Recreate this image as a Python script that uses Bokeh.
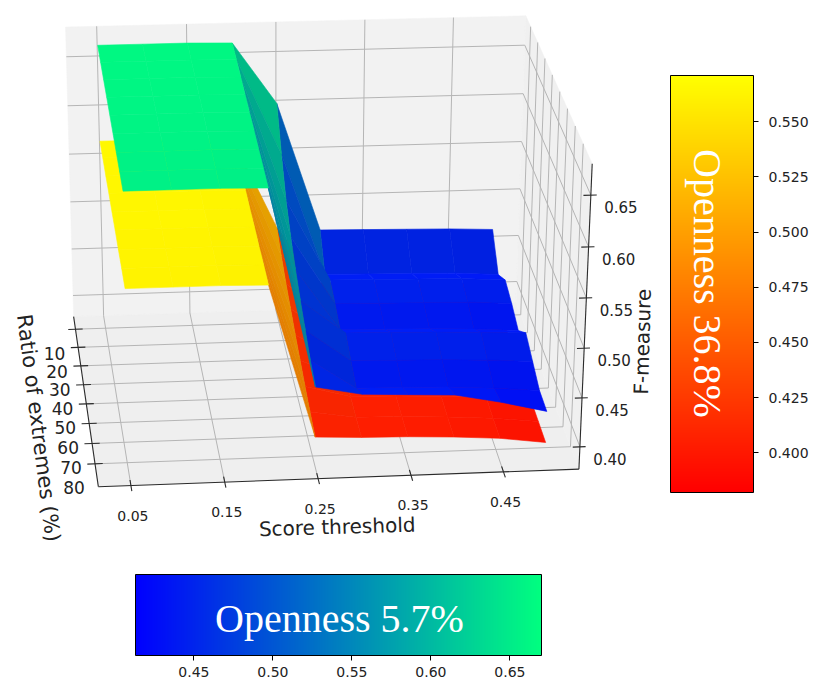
import numpy as np
from bokeh.plotting import figure
from bokeh.models import (Range1d, ColorBar, LinearColorMapper, FixedTicker,
                          PrintfTickFormatter, ColumnDataSource)
from bokeh.core.properties import value
from bokeh.embed import file_html
from bokeh.resources import INLINE

# ---------------- data ----------------
score_threshold = [0.05, 0.10, 0.15, 0.20, 0.25, 0.30, 0.35, 0.40, 0.45, 0.50]
ratio_of_extremes = [5, 15, 25, 35, 45, 55, 65, 75, 85]

# F-measure, rows = ratio of extremes, cols = score threshold
fmeasure_openness_5_7 = [
    [0.664, 0.664, 0.664, 0.663, 0.600, 0.466, 0.465, 0.464, 0.463, 0.461],
    [0.663, 0.663, 0.663, 0.662, 0.565, 0.437, 0.436, 0.435, 0.434, 0.431],
    [0.662, 0.662, 0.662, 0.661, 0.535, 0.450, 0.449, 0.448, 0.447, 0.444],
    [0.661, 0.661, 0.661, 0.660, 0.515, 0.444, 0.443, 0.442, 0.441, 0.438],
    [0.660, 0.660, 0.660, 0.659, 0.500, 0.436, 0.435, 0.434, 0.432, 0.429],
    [0.659, 0.659, 0.659, 0.658, 0.487, 0.452, 0.451, 0.450, 0.448, 0.446],
    [0.658, 0.658, 0.658, 0.657, 0.476, 0.443, 0.442, 0.441, 0.439, 0.436],
    [0.657, 0.657, 0.657, 0.656, 0.465, 0.435, 0.434, 0.433, 0.430, 0.426],
    [0.656, 0.656, 0.656, 0.655, 0.458, 0.449, 0.447, 0.445, 0.436, 0.425],
]
fmeasure_openness_36_8 = [
    [0.566, 0.566, 0.566, 0.565, 0.470, 0.409, 0.408, 0.407, 0.405, 0.401],
    [0.566, 0.566, 0.566, 0.565, 0.458, 0.408, 0.407, 0.406, 0.404, 0.400],
    [0.565, 0.565, 0.565, 0.564, 0.448, 0.408, 0.407, 0.405, 0.403, 0.399],
    [0.565, 0.565, 0.565, 0.564, 0.440, 0.407, 0.406, 0.405, 0.402, 0.398],
    [0.564, 0.564, 0.564, 0.563, 0.432, 0.407, 0.406, 0.404, 0.401, 0.397],
    [0.564, 0.564, 0.564, 0.563, 0.425, 0.406, 0.405, 0.404, 0.401, 0.396],
    [0.563, 0.563, 0.563, 0.562, 0.418, 0.406, 0.405, 0.403, 0.400, 0.395],
    [0.563, 0.563, 0.563, 0.562, 0.412, 0.405, 0.404, 0.402, 0.399, 0.394],
    [0.562, 0.562, 0.562, 0.561, 0.407, 0.405, 0.404, 0.402, 0.399, 0.393],
]

x_ticks = [0.05, 0.15, 0.25, 0.35, 0.45]
x_tick_labels = ["0.05", "0.15", "0.25", "0.35", "0.45"]
y_ticks = [10, 20, 30, 40, 50, 60, 70, 80]
y_tick_labels = ["10", "20", "30", "40", "50", "60", "70", "80"]
z_ticks = [0.40, 0.45, 0.50, 0.55, 0.60, 0.65]
z_tick_labels = ["0.40", "0.45", "0.50", "0.55", "0.60", "0.65"]

cbar_36_8_range = (0.382, 0.571)
cbar_36_8_ticks = [0.400, 0.425, 0.450, 0.475, 0.500, 0.525, 0.550]
cbar_5_7_range = (0.413, 0.670)
cbar_5_7_ticks = [0.45, 0.50, 0.55, 0.60, 0.65]

x_label = "Score threshold"
y_label = "Ratio of extremes (%)"
z_label = "F-measure"
title_36_8 = "Openness 36.8%"
title_5_7 = "Openness 5.7%"

# 3D axis limits
x_lim = (0.0154, 0.532)
y_lim = (3.0, 91.0)
z_lim = (0.377, 0.680)

# ---------------- view (camera calibration of the 3D box) ----------------
view_box = np.array([[0, 0, 0], [1, 0, 0], [0, 0, 1], [1, 0, 1],
                     [0, 1, 0], [1, 1, 0], [1, 1, 1]], float)
view_px = np.array([[73, 315], [516, 303], [65, 27], [525, 15],
                    [98, 487], [578, 468], [592, 163]], float) / 100.0
_rows = []
for (X, Y, Z), (sx, sy) in zip(view_box, view_px):
    _rows.append([X, Y, Z, 1, 0, 0, 0, 0, -sx * X, -sx * Y, -sx * Z, -sx])
    _rows.append([0, 0, 0, 0, X, Y, Z, 1, -sy * X, -sy * Y, -sy * Z, -sy])
_, _, _vt = np.linalg.svd(np.array(_rows))
PROJ = _vt[-1].reshape(3, 4)


def to_box(x, y, z):
    x = np.asarray(x, float); y = np.asarray(y, float); z = np.asarray(z, float)
    return ((x - x_lim[0]) / (x_lim[1] - x_lim[0]),
            (y - y_lim[0]) / (y_lim[1] - y_lim[0]),
            (z - z_lim[0]) / (z_lim[1] - z_lim[0]))


def project(u, v, w):
    u = np.atleast_1d(np.asarray(u, float)); v = np.atleast_1d(np.asarray(v, float))
    w = np.atleast_1d(np.asarray(w, float))
    u, v, w = np.broadcast_arrays(u, v, w)
    h = PROJ @ np.vstack([u.ravel(), v.ravel(), w.ravel(), np.ones(u.size)])
    return 100 * h[0] / h[2], 100 * h[1] / h[2]


def depth(u, v, w):
    return -0.064 * u + 0.913 * v + 0.306 * w


def autumn(t):
    t = float(np.clip(t, 0, 1))
    return (1.0, t, 0.0)


def winter(t):
    t = float(np.clip(t, 0, 1))
    return (0.0, t, 1.0 - 0.5 * t)


def hexcol(rgb, f=1.0):
    r, g, b = [int(round(255 * min(1.0, max(0.0, c * f)))) for c in rgb]
    return "#%02x%02x%02x" % (r, g, b)


LIGHT = np.array([-0.667, -0.667, 0.333])
LIGHT = LIGHT / np.linalg.norm(LIGHT)


def surface_quads(zgrid, cmap, lo, hi):
    X, Y = np.meshgrid(score_threshold, ratio_of_extremes)
    Z = np.array(zgrid, float)
    U, V, W = to_box(X, Y, Z)
    out = []
    nr, nc = Z.shape
    for i in range(nr - 1):
        for j in range(nc - 1):
            idx = [(i, j), (i, j + 1), (i + 1, j + 1), (i + 1, j)]
            us = np.array([U[a] for a in idx]); vs = np.array([V[a] for a in idx])
            ws = np.array([W[a] for a in idx]); zs = np.array([Z[a] for a in idx])
            pts = np.stack([us, vs, 0.75 * ws], axis=1)
            dx = ((pts[1] - pts[0]) + (pts[2] - pts[3])) / 2
            dy = ((pts[3] - pts[0]) + (pts[2] - pts[1])) / 2
            n = np.cross(dx, dy)
            n = n / np.linalg.norm(n)
            s = float(np.dot(n, LIGHT))
            f = 1.0 - 0.12 * (0.333 - s)
            col = hexcol(cmap((zs.mean() - lo) / (hi - lo)), f)
            sx, sy = project(us, vs, ws)
            out.append((float(depth(us, vs, ws).mean()), list(sx), list(sy), col))
    return out


# ---------------- figure ----------------
p = figure(width=815, height=684, x_range=Range1d(0, 815), y_range=Range1d(684, 0),
           output_backend="svg", toolbar_location=None, min_border=0,
           x_axis_location=None, y_axis_location=None)
p.grid.visible = False
p.outline_line_color = None
p.background_fill_color = "white"
p.border_fill_color = "white"

# panes
pane_defs = [
    ([0, 1, 1, 0], [0, 0, 0, 0], [0, 0, 1, 1], "#f2f2f2"),   # back
    ([0, 1, 1, 0], [0, 0, 1, 1], [0, 0, 0, 0], "#efefef"),   # floor
    ([1, 1, 1, 1], [0, 1, 1, 0], [0, 0, 1, 1], "#f0f0f0"),   # right side
]
pxs, pys, pcs = [], [], []
for us, vs, ws, c in pane_defs:
    sx, sy = project(us, vs, ws)
    pxs.append(list(sx)); pys.append(list(sy)); pcs.append(c)
p.patches(xs=pxs, ys=pys, fill_color=pcs, line_color=pcs, line_width=0.5)

# grid lines
gx, gy = [], []


def seg(a, b):
    sx, sy = project([a[0], b[0]], [a[1], b[1]], [a[2], b[2]])
    gx.append(list(sx)); gy.append(list(sy))


xu = np.atleast_1d(to_box(x_ticks, 0, 0)[0])
yv = np.atleast_1d(to_box(0, y_ticks, 0)[1])
zw = np.atleast_1d(to_box(0, 0, z_ticks)[2])
for u in xu:
    seg((u, 0, 0), (u, 0, 1))
    seg((u, 0, 0), (u, 1, 0))
for w in zw:
    seg((0, 0, w), (1, 0, w))
    seg((1, 0, w), (1, 1, w))
for v in yv:
    seg((0, v, 0), (1, v, 0))
    seg((1, v, 0), (1, v, 1))
p.multi_line(xs=gx, ys=gy, line_color="#b5b5b5", line_width=1)

# axis lines and ticks
ax_x, ax_y = [], []
for a, b in [((0, 0, 0), (0, 1, 0)), ((0, 1, 0), (1, 1, 0)), ((1, 1, 0), (1, 1, 1))]:
    sx, sy = project([a[0], b[0]], [a[1], b[1]], [a[2], b[2]])
    ax_x.append(list(sx)); ax_y.append(list(sy))
for v in yv:
    sx, sy = project([-0.016, 0.016], [v, v], [0, 0]); ax_x.append(list(sx)); ax_y.append(list(sy))
for u in xu:
    sx, sy = project([u, u], [0.97, 1.03], [0, 0]); ax_x.append(list(sx)); ax_y.append(list(sy))
for w in zw:
    sx, sy = project([0.985, 1.012], [1, 1], [w, w]); ax_x.append(list(sx)); ax_y.append(list(sy))
p.multi_line(xs=ax_x, ys=ax_y, line_color="#2b2b2b", line_width=1.1)

# surfaces, sorted back to front
quads = (surface_quads(fmeasure_openness_36_8, autumn, *cbar_36_8_range)
         + surface_quads(fmeasure_openness_5_7, winter, *cbar_5_7_range))
quads.sort(key=lambda q: q[0])
src = ColumnDataSource(dict(xs=[q[1] for q in quads], ys=[q[2] for q in quads],
                            c=[q[3] for q in quads]))
p.patches(xs="xs", ys="ys", fill_color="c", line_color="c", line_width=0.6, source=src)

# tick labels
TF = value("DejaVu Sans")
sx, sy = project(xu, 1, 0)
p.text(x=list(sx + 2), y=list(sy + 30), text=x_tick_labels, text_font=TF,
       text_font_size=value("14px"), text_align="center", text_baseline="middle",
       text_color="#222222")
sx, sy = project(0, yv, 0)
p.text(x=list(sx - 21), y=list(sy + 24), text=y_tick_labels, text_font=TF,
       text_font_size=value("17px"), text_align="center", text_baseline="middle",
       text_color="#222222")
sx, sy = project(1, 1, zw)
p.text(x=list(sx + 30), y=list(sy + 12), text=z_tick_labels, text_font=TF,
       text_font_size=value("15px"), text_align="center", text_baseline="middle",
       text_color="#222222")

# axis labels
mx, my = project(0.5, 1, 0)
p.text(x=[mx[0] - 3], y=[my[0] + 49], text=[x_label], text_font=TF,
       text_font_size=value("20px"), text_align="center", text_baseline="middle",
       text_color="#222222", angle=0.03)
mx, my = project(0, 0.5, 0)
p.text(x=[mx[0] - 47], y=[my[0] + 30], text=[y_label], text_font=TF,
       text_font_size=value("21px"), text_align="center", text_baseline="middle",
       text_color="#222222", angle=-1.443)
mx, my = project(1, 1, 0.5)
p.text(x=[mx[0] + 57], y=[my[0] + 22], text=[z_label], text_font=TF,
       text_font_size=value("20px"), text_align="center", text_baseline="middle",
       text_color="#222222", angle=1.544)

# ---------------- colour bars ----------------
autumn_palette = [hexcol(autumn(t)) for t in np.linspace(0, 1, 256)]
winter_palette = [hexcol(winter(t)) for t in np.linspace(0, 1, 256)]

cb_common = dict(padding=0, border_line_color=None, background_fill_alpha=0,
                 bar_line_color="black", bar_line_width=1,
                 major_tick_out=5, major_tick_in=0, major_tick_line_color="black",
                 minor_tick_line_color=None,
                 major_label_text_font="DejaVu Sans", major_label_text_font_size="14px",
                 major_label_text_color="#222222")

cb_a = ColorBar(color_mapper=LinearColorMapper(palette=autumn_palette,
                                               low=cbar_36_8_range[0], high=cbar_36_8_range[1]),
                orientation="vertical", location=(670, 192), width=83, height=417,
                ticker=FixedTicker(ticks=cbar_36_8_ticks), label_standoff=10,
                formatter=PrintfTickFormatter(format="%.3f"), **cb_common)
cb_w = ColorBar(color_mapper=LinearColorMapper(palette=winter_palette,
                                               low=cbar_5_7_range[0], high=cbar_5_7_range[1]),
                orientation="horizontal", location=(135, 5), width=406, height=81,
                ticker=FixedTicker(ticks=cbar_5_7_ticks), label_standoff=6,
                formatter=PrintfTickFormatter(format="%.2f"), **cb_common)
p.add_layout(cb_a)
p.add_layout(cb_w)

SERIF = value("Liberation Serif")
p.text(x=[707], y=[283], text=[title_36_8], text_font=SERIF, text_font_size=value("40px"),
       text_color="white", text_align="center", text_baseline="middle",
       angle=-np.pi / 2, level="overlay")
p.text(x=[339], y=[618], text=[title_5_7], text_font=SERIF, text_font_size=value("40px"),
       text_color="white", text_align="center", text_baseline="middle", level="overlay")

open("out.html", "w").write(file_html(p, INLINE))
